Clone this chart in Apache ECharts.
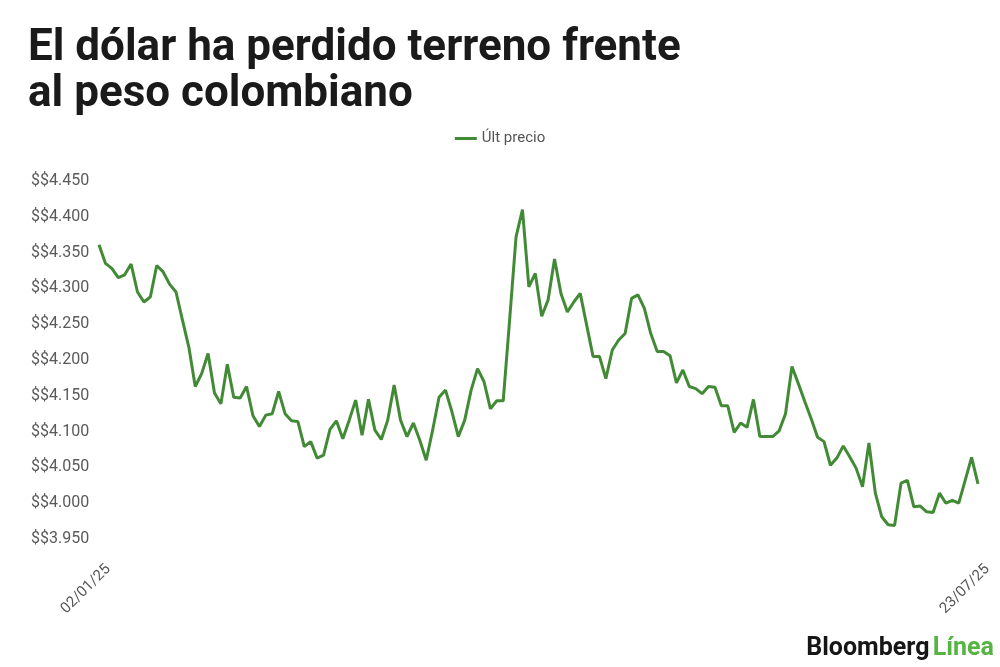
<!DOCTYPE html>
<html>
<head>
<meta charset="utf-8">
<title>El dólar ha perdido terreno frente al peso colombiano</title>
<script src="https://cdn.jsdelivr.net/npm/echarts@6/dist/echarts.min.js"></script>
<style>
  html, body { margin: 0; padding: 0; background: #fff; }
  #chart { width: 1000px; height: 667px; }
</style>
</head>
<body>
<div id="chart"></div>
<script>
// textos
const titleText = 'El dólar ha perdido terreno frente\nal peso colombiano';
const seriesName = 'Últ precio';
const firstDate = '02/01/25';
const lastDate = '23/07/25';

// eje y
const yMin = 3950;
const yMax = 4450;
const yStep = 50;

// USD/COP, cierre diario
const prices = [
  4361, 4335, 4328, 4315, 4319, 4334, 4295, 4281, 4288, 4332,
  4323, 4306, 4295, 4256, 4218, 4163, 4181, 4209, 4154, 4139,
  4194, 4148, 4147, 4163, 4122, 4107, 4123, 4125, 4156, 4125,
  4115, 4114, 4079, 4086, 4063, 4067, 4103, 4115, 4090, 4116,
  4144, 4095, 4145, 4102, 4089, 4116, 4165, 4116, 4093, 4112,
  4088, 4060, 4102, 4148, 4158, 4128, 4093, 4116, 4158, 4188,
  4170, 4132, 4143, 4143, 4256, 4372, 4410, 4302, 4321, 4261,
  4284, 4341, 4293, 4267, 4281, 4293, 4249, 4205, 4205, 4174,
  4214, 4228, 4237, 4286, 4291, 4272, 4237, 4212, 4212, 4206,
  4168, 4186, 4163, 4160, 4153, 4163, 4162, 4136, 4136, 4099,
  4112, 4106, 4145, 4093, 4093, 4093, 4101, 4125, 4191, 4167,
  4142, 4118, 4092, 4086, 4053, 4063, 4080, 4065, 4049, 4023,
  4084, 4014, 3981, 3970, 3969, 4028, 4032, 3995, 3996, 3988,
  3987, 4014, 4000, 4004, 4000, 4032, 4064, 4027
];

const days = prices.map((p, i) => String(i));
const lastIdx = prices.length - 1;

function fmtPeso(v) {
  return '$$' + String(v).replace(/\B(?=(\d{3})+(?!\d))/g, '.');
}

const chart = echarts.init(document.getElementById('chart'));

chart.setOption({
  backgroundColor: '#fff',
  animation: false,
  title: {
    text: titleText,
    left: 23,
    top: 21,
    textStyle: {
      fontFamily: 'Roboto, sans-serif',
      fontWeight: 'bold',
      fontSize: 44,
      lineHeight: 46,
      color: '#1a1a1a'
    }
  },
  legend: {
    top: 126,
    left: 'center',
    icon: 'rect',
    itemWidth: 22,
    itemHeight: 3,
    itemGap: 8,
    textStyle: { fontFamily: 'Roboto', fontSize: 15, color: '#555' },
    data: [seriesName]
  },
  grid: { left: 99, right: 22, top: 181, bottom: 128 },
  xAxis: {
    type: 'category',
    data: days,
    boundaryGap: false,
    axisLine: { show: false },
    axisTick: { show: false },
    splitLine: { show: false },
    axisLabel: {
      rotate: 45,
      margin: 37,
      padding: [0, -13, 0, 0],
      fontFamily: 'Roboto',
      fontSize: 15,
      color: '#555',
      interval: (i) => i === 0 || i === lastIdx,
      formatter: (v, i) => (i === 0 ? firstDate : lastDate)
    }
  },
  yAxis: {
    type: 'value',
    min: yMin,
    max: yMax,
    interval: yStep,
    axisLine: { show: false },
    axisTick: { show: false },
    splitLine: { show: false },
    axisLabel: {
      align: 'left',
      margin: 68,
      fontFamily: 'Roboto',
      fontSize: 16,
      color: '#5a5a5a',
      formatter: fmtPeso
    }
  },
  series: [{
    name: seriesName,
    type: 'line',
    data: prices,
    showSymbol: false,
    symbol: 'none',
    lineStyle: { color: '#428a35', width: 3 },
    itemStyle: { color: '#428a35' }
  }],
  graphic: [{
    type: 'text',
    right: 6,
    top: 636,
    style: {
      text: '{a|Bloomberg} {b|Línea}',
      rich: {
        a: { fontFamily: 'Roboto, sans-serif', fontWeight: 'bold', fontSize: 25, fill: '#161616' },
        b: { fontFamily: 'Roboto, sans-serif', fontWeight: 'bold', fontSize: 25, fill: '#56b443' }
      }
    }
  }]
});
</script>
</body>
</html>
